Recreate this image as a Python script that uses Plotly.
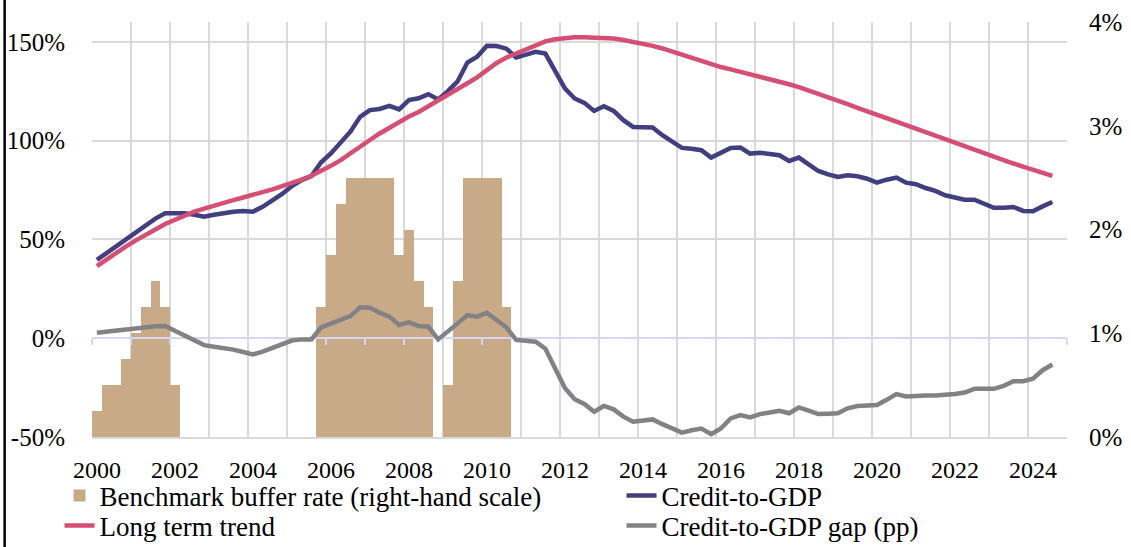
import plotly.graph_objects as go

# Quarterly observations, 2000Q1 .. 2024Q3 (index 0 = 2000Q1)
quarter_index = list(range(99))

buffer_rate = [0.25, 0.5, 0.5, 0.75, 1.0, 1.25, 1.5, 1.25, 0.5,
               0, 0, 0, 0, 0, 0, 0, 0, 0, 0, 0, 0, 0, 0,
               1.25, 1.75, 2.25, 2.5, 2.5, 2.5, 2.5, 2.5, 1.75, 2.0, 1.5, 1.25,
               0, 0.5, 1.5, 2.5, 2.5, 2.5, 2.5, 1.25] + [0] * 56

credit_to_gdp = [39.6, 43.0, 46.5, 50.0, 53.5, 57.0, 60.5, 63.2, 63.2, 63.2,
                 62.5, 61.5, 62.5, 63.5, 64.0, 64.3, 64.0, 66.5, 69.5, 73.0,
                 77.0, 80.0, 82.0, 89.0, 93.5, 99.0, 104.5, 112.0, 115.4, 116.0,
                 117.6, 115.8, 120.5, 121.4, 123.5, 120.8, 125.0, 130.0, 139.5, 142.4,
                 148.0, 147.8, 146.5, 142.0, 143.2, 144.9, 144.0, 135.6, 126.4, 121.3,
                 119.1, 115.0, 117.4, 115.0, 110.3, 106.9, 106.8, 106.6, 102.7, 99.5,
                 96.3, 95.9, 95.1, 91.4, 93.8, 96.3, 96.5, 93.4, 93.8, 93.4,
                 92.6, 89.7, 91.4, 88.0, 84.6, 82.9, 81.6, 82.4, 81.9, 80.7,
                 78.7, 80.2, 81.3, 78.7, 77.9, 76.0, 74.5, 72.3, 71.1, 70.1,
                 70.1, 68.0, 66.0, 66.0, 66.4, 64.4, 64.2, 66.7, 68.9]

long_term_trend = [36.5, 40.0, 43.5, 46.5, 49.5, 52.5, 55.0, 57.8, 60.0, 62.2,
                   64.0, 65.6, 67.2, 68.7, 69.9, 71.2, 72.4, 73.8, 75.3, 77.0,
                   78.5, 80.2, 82.2, 84.5, 87.2, 90.1, 93.3, 96.8, 100.3, 103.6,
                   106.6, 109.5, 112.2, 114.5, 117.3, 120.0, 122.8, 126.0, 129.0, 132.0,
                   136.0, 139.3, 142.0, 144.0, 146.5, 148.5, 150.2, 151.3, 152.0, 152.3,
                   152.3, 152.2, 152.0, 151.6, 150.9, 150.0, 149.0, 147.9, 146.6, 145.0,
                   143.4, 141.7, 139.9, 138.4, 137.2, 136.0, 134.8, 133.6, 132.4, 131.1,
                   129.8, 128.5, 127.0, 125.4, 123.6, 121.8, 120.1, 118.4, 116.6, 114.7,
                   113.0, 111.3, 109.6, 107.8, 106.0, 104.2, 102.3, 100.5, 98.7, 96.9,
                   95.1, 93.5, 91.7, 90.0, 88.4, 86.8, 85.3, 83.7, 82.1]

credit_gap = [2.8, 3.3, 3.9, 4.5, 5.3, 5.7, 6.0, 6.2, 3.8, 1.2,
              -1.5, -3.5, -4.3, -4.8, -5.8, -7.0, -8.2, -6.8, -5.1, -3.2,
              -1.2, -0.6, -0.6, 5.5, 7.3, 9.2, 11.2, 15.6, 15.4, 12.9,
              10.9, 6.7, 8.0, 6.2, 5.8, -0.6, 3.2, 7.5, 11.7, 10.9,
              12.9, 9.5, 5.5, -0.9, -1.3, -1.8, -5.3, -15.0, -25.2, -30.9,
              -33.3, -37.2, -34.3, -36.0, -39.7, -42.3, -41.7, -41.1, -43.5, -45.7,
              -47.8, -46.6, -45.7, -48.6, -45.7, -40.6, -38.9, -40.1, -38.4, -37.6,
              -36.7, -38.0, -35.0, -36.7, -38.4, -38.2, -38.0, -35.5, -34.3, -34.0,
              -33.8, -31.2, -28.3, -29.5, -29.0, -29.0, -29.0, -28.8, -28.2, -27.5,
              -25.6, -25.6, -25.6, -24.1, -21.8, -21.8, -20.5, -16.2, -13.3]

# Axis ticks
year_label_pos = [8 * k for k in range(13)]                 # first quarter of every 2nd year
year_labels = [str(2000 + 2 * k) for k in range(13)]
year_grid_pos = [-0.5 + 4 * k for k in range(26)]           # boundaries between years
left_range = [-50, 160]
left_tick_vals = [-50, 0, 50, 100, 150]
left_tick_labels = ["-50%", "0%", "50%", "100%", "150%"]
right_range = [0, 4]
right_tick_vals = [0, 1, 2, 3, 4]
right_tick_labels = ["0%", "1%", "2%", "3%", "4%"]
x_range = [-0.5, 99.5]

FONT = "Liberation Serif"
TAN = "#c9aa87"
NAVY = "#423f80"
PINK = "#d54f74"
GREY = "#828186"
GRID = "#d9d9d9"
AXIS0 = "#d6d6f0"

# left-scale gridlines expressed on the right scale (the bar subplot's y axis)
def left_to_right(v):
    return (v - left_range[0]) / (left_range[1] - left_range[0]) * \
        (right_range[1] - right_range[0]) + right_range[0]

left_grid_on_right = [left_to_right(v) for v in left_tick_vals]
zero_pos = (0 - left_range[0]) / (left_range[1] - left_range[0])

fig = go.Figure()
# lower group: gridlines, bars and the category axis crossing at 0%
fig.add_trace(go.Bar(x=quarter_index, y=buffer_rate, width=1.0, xaxis="x", yaxis="y",
                     marker=dict(color=TAN, line=dict(width=0)), legend="legend",
                     name="Benchmark buffer rate (right-hand scale)"))
# upper group: the three lines on the left scale
fig.add_trace(go.Scatter(x=quarter_index, y=credit_to_gdp, xaxis="x2", yaxis="y2",
                         mode="lines", legend="legend2",
                         line=dict(color=NAVY, width=4.5), name="Credit-to-GDP"))
fig.add_trace(go.Scatter(x=quarter_index, y=long_term_trend, xaxis="x2", yaxis="y2",
                         mode="lines", legend="legend3",
                         line=dict(color=PINK, width=4.5), name="Long term trend"))
fig.add_trace(go.Scatter(x=quarter_index, y=credit_gap, xaxis="x2", yaxis="y2",
                         mode="lines", legend="legend4",
                         line=dict(color=GREY, width=4.5), name="Credit-to-GDP gap (pp)"))

leg_common = dict(orientation="v", xanchor="left", yanchor="top",
                  font=dict(size=27, family=FONT, color="black"),
                  bgcolor="rgba(0,0,0,0)", borderwidth=0, itemwidth=30)
COL1, COL2 = -0.0333, 0.5431
ROW1, ROW2 = -0.0829, -0.1552

fig.update_layout(
    width=1131, height=547,
    margin=dict(l=92, r=64, t=22, b=110, autoexpand=False),
    paper_bgcolor="white", plot_bgcolor="rgba(0,0,0,0)",
    font=dict(family=FONT, size=24, color="black"),
    bargap=0,
    showlegend=True,
    legend=dict(x=COL1, y=ROW1, **leg_common),
    legend2=dict(x=COL2, y=ROW1, **leg_common),
    legend3=dict(x=COL1, y=ROW2, **leg_common),
    legend4=dict(x=COL2, y=ROW2, **leg_common),
    # lower group x axis: year gridlines + axis line with ticks at the 0% level
    xaxis=dict(range=x_range, anchor="free", position=zero_pos, side="bottom",
               tickmode="array", tickvals=year_grid_pos, showticklabels=False,
               showgrid=True, gridcolor=GRID, gridwidth=2,
               ticks="outside", ticklen=6, tickwidth=2, tickcolor=AXIS0,
               showline=True, linecolor=AXIS0, linewidth=2, zeroline=False,
               layer="above traces"),
    # lower group y axis: right-hand scale for the bars, left-scale gridlines as minor grid
    yaxis=dict(range=right_range, anchor="x", side="right", tickmode="array",
               tickvals=right_tick_vals, ticktext=right_tick_labels, showgrid=False,
               minor=dict(tickmode="array", tickvals=left_grid_on_right, showgrid=True,
                          gridcolor=GRID, gridwidth=2, ticks=""),
               zeroline=False, ticks="", ticklabelstandoff=21,
               tickfont=dict(size=25, family=FONT)),
    # upper group axes: year labels at the bottom and the left-hand scale
    xaxis2=dict(range=x_range, anchor="y2", tickmode="array", tickvals=year_label_pos,
                ticktext=year_labels, ticklabelstandoff=10, showgrid=False, ticks="",
                showline=True, linecolor=GRID, linewidth=2, zeroline=False,
                tickfont=dict(size=24, family=FONT)),
    yaxis2=dict(range=left_range, anchor="x2", side="left", tickmode="array",
                tickvals=left_tick_vals, ticktext=left_tick_labels, showgrid=False,
                zeroline=False, ticks="", ticklabelstandoff=26,
                tickfont=dict(size=25, family=FONT)),
    shapes=[dict(type="line", xref="paper", yref="paper", x0=-0.0896, x1=-0.0896,
                 y0=-0.3, y1=1.1, line=dict(color="black", width=2.5))],
)

fig.write_html("out.html", config={"displayModeBar": False},
               post_script="document.body.style.margin='0px';")
